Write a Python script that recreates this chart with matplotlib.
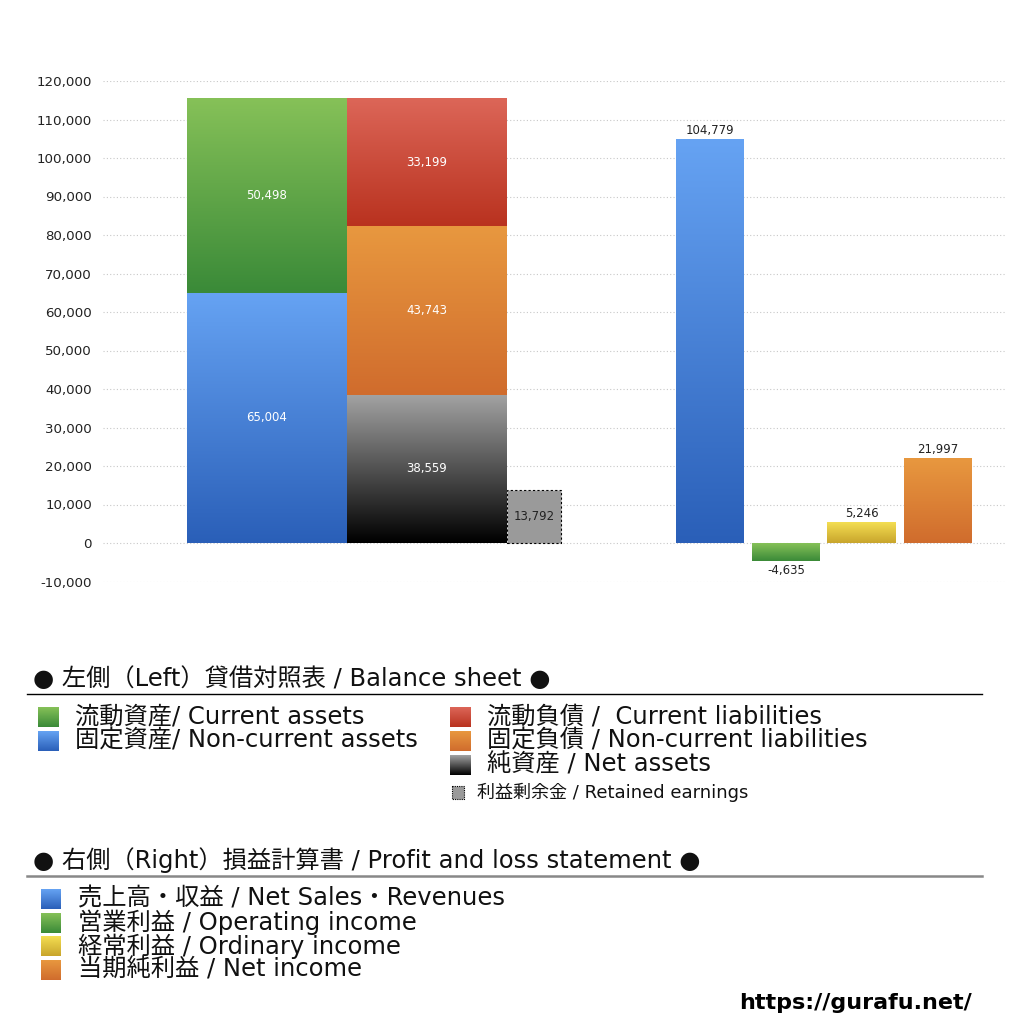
import matplotlib
matplotlib.use("Agg")
import matplotlib.pyplot as plt
import numpy as np
from matplotlib.colors import to_rgb
from matplotlib.patches import Rectangle

plt.rcParams['font.family'] = ['DejaVu Sans', 'Noto Sans CJK JP']

# ---- data ----
assets_names = ["固定資産", "流動資産"]
assets_vals = [65004, 50498]
liab_names = ["純資産", "固定負債", "流動負債"]
liab_vals = [38559, 43743, 33199]
retained_val = 13792
pl_names = ["売上高・収益", "営業利益", "経常利益", "当期純利益"]
pl_vals = [104779, -4635, 5246, 21997]

yticks = list(range(-10000, 120001, 10000))

bs_title = "● 左側（Left）貸借対照表 / Balance sheet ●"
pl_title = "● 右側（Right）損益計算書 / Profit and loss statement ●"
bs_left_items = ["流動資産/ Current assets", "固定資産/ Non-current assets"]
bs_right_items = ["流動負債 /  Current liabilities", "固定負債 / Non-current liabilities",
                  "純資産 / Net assets"]
retained_item = "利益剰余金 / Retained earnings"
pl_items = ["売上高・収益 / Net Sales・Revenues", "営業利益 / Operating income",
            "経常利益 / Ordinary income", "当期純利益 / Net income"]

# gradient colours (top, bottom)
C_BLUE = ("#66a3f3", "#2a5fb8")
C_GREEN = ("#86c158", "#3a8a38")
C_RED = ("#dc6658", "#b9321f")
C_ORANGE = ("#e8983f", "#d06c2d")
C_BLACK = ("#a3a3a3", "#000000")
C_YELLOW = ("#f4de52", "#c8a52c")


def gradient(ax, x0, x1, y0, y1, ctop, cbot, z=3):
    lo, hi = min(y0, y1), max(y0, y1)
    t = np.linspace(0, 1, 256)[:, None, None]
    arr = np.array(to_rgb(cbot))[None, None, :] * (1 - t) + np.array(to_rgb(ctop))[None, None, :] * t
    ax.imshow(arr, extent=(x0, x1, lo, hi), origin='lower', aspect='auto',
              interpolation='bilinear', zorder=z)


def grad_px(ax, x0, y0, w, h, ctop, cbot):
    # pixel-space overlay, y grows downward
    t = np.linspace(0, 1, 64)[:, None, None]
    arr = np.array(to_rgb(cbot))[None, None, :] * (1 - t) + np.array(to_rgb(ctop))[None, None, :] * t
    ax.imshow(arr, extent=(x0, x0 + w, y0 + h, y0), origin='lower', aspect='auto',
              interpolation='bilinear', zorder=3)


fig = plt.figure(figsize=(10.24, 10.24), dpi=100)
ax = fig.add_axes([103 / 1024, 1 - 581.5 / 1024, 902 / 1024, 500.5 / 1024])

# layout (x in 100px units from the axes left edge)
bs_w = 1.60
x_assets = 1.64
x_liab = 3.24
x_ret = 4.31
w_ret = 0.54
pl_x = [6.07, 6.83, 7.585, 8.345]
pl_w = 0.68

# balance sheet: assets
bottom = 0
for v, c in zip(assets_vals, [C_BLUE, C_GREEN]):
    b = ax.bar(x_assets, v, bs_w, bottom=bottom, color=c[1], linewidth=0, zorder=2)[0]
    gradient(ax, b.get_x(), b.get_x() + b.get_width(), bottom, bottom + v, c[0], c[1])
    ax.text(x_assets, bottom + v / 2, f"{v:,}", ha='center', va='center', color='white',
            fontsize=8.5, zorder=5)
    bottom += v

# balance sheet: liabilities + net assets
bottom = 0
for v, c in zip(liab_vals, [C_BLACK, C_ORANGE, C_RED]):
    b = ax.bar(x_liab, v, bs_w, bottom=bottom, color=c[1], linewidth=0, zorder=2)[0]
    gradient(ax, b.get_x(), b.get_x() + b.get_width(), bottom, bottom + v, c[0], c[1])
    ax.text(x_liab, bottom + v / 2, f"{v:,}", ha='center', va='center', color='white',
            fontsize=8.5, zorder=5)
    bottom += v

# retained earnings
ax.bar(x_ret, retained_val, w_ret, color="#9a9a9a", edgecolor='black', linestyle=(0, (2, 2)),
       linewidth=0.8, zorder=4)
ax.text(x_ret, retained_val / 2, f"{retained_val:,}", ha='center', va='center', color='#222222',
        fontsize=8.5, zorder=5)

# profit and loss
for x, v, c in zip(pl_x, pl_vals, [C_BLUE, C_GREEN, C_YELLOW, C_ORANGE]):
    b = ax.bar(x, v, pl_w, color=c[1], linewidth=0, zorder=2)[0]
    gradient(ax, b.get_x(), b.get_x() + b.get_width(), 0, v, c[0], c[1])
    if v >= 0:
        ax.text(x, v + 700, f"{v:,}", ha='center', va='bottom', color='#222222', fontsize=8.5, zorder=5)
    else:
        ax.text(x, v - 700, f"{v:,}", ha='center', va='top', color='#222222', fontsize=8.5, zorder=5)

ax.set_xlim(0, 9.02)
ax.set_ylim(-10000, 120000)
ax.set_yticks(yticks)
ax.set_yticklabels([f"{t:,}" for t in yticks], fontsize=9.6, color='#222222')
ax.set_xticks([])
ax.tick_params(axis='y', length=0, pad=8)
for s in ax.spines.values():
    s.set_visible(False)
ax.grid(axis='y', color='#c8c8c8', linestyle=(0, (1, 2)), linewidth=0.8, zorder=0)
ax.set_axisbelow(True)

# ---- legend area in pixel coordinates ----
lg = fig.add_axes([0, 0, 1, 1])
lg.set_xlim(0, 1024)
lg.set_ylim(1024, 0)
lg.axis('off')
lg.patch.set_alpha(0)

fs = 17.5
lg.text(33, 679, bs_title, fontsize=fs, va='center', ha='left', color='#111111')
lg.plot([27, 982], [694, 694], color='black', linewidth=1)

for i, (txt, c) in enumerate(zip(bs_left_items, [C_GREEN, C_BLUE])):
    y = 717 + i * 24
    grad_px(lg, 38, y - 10, 21, 20, c[0], c[1])
    lg.text(75, y, txt, fontsize=fs, va='center', ha='left', color='#111111')

for i, (txt, c) in enumerate(zip(bs_right_items, [C_RED, C_ORANGE, C_BLACK])):
    y = 717 + i * 24
    grad_px(lg, 450, y - 10, 21, 20, c[0], c[1])
    lg.text(487, y, txt, fontsize=fs, va='center', ha='left', color='#111111')

lg.add_patch(Rectangle((452, 786), 12, 13, facecolor='#9a9a9a', edgecolor='black',
                       linestyle=(0, (1, 1)), linewidth=0.8))
lg.text(477, 792, retained_item, fontsize=13, va='center', ha='left', color='#111111')

lg.text(33, 860, pl_title, fontsize=fs, va='center', ha='left', color='#111111')
lg.plot([27, 982], [876, 876], color='#888888', linewidth=1.8)

for i, (txt, c) in enumerate(zip(pl_items, [C_BLUE, C_GREEN, C_YELLOW, C_ORANGE])):
    y = 899 + i * 23.6
    grad_px(lg, 41, y - 10, 20, 20, c[0], c[1])
    lg.text(78, y, txt, fontsize=fs, va='center', ha='left', color='#111111')

lg.text(972, 1003, "https://gurafu.net/", fontsize=16, fontweight='bold', va='center',
        ha='right', color='black')

fig.savefig("out.png", dpi=100, facecolor='white')
